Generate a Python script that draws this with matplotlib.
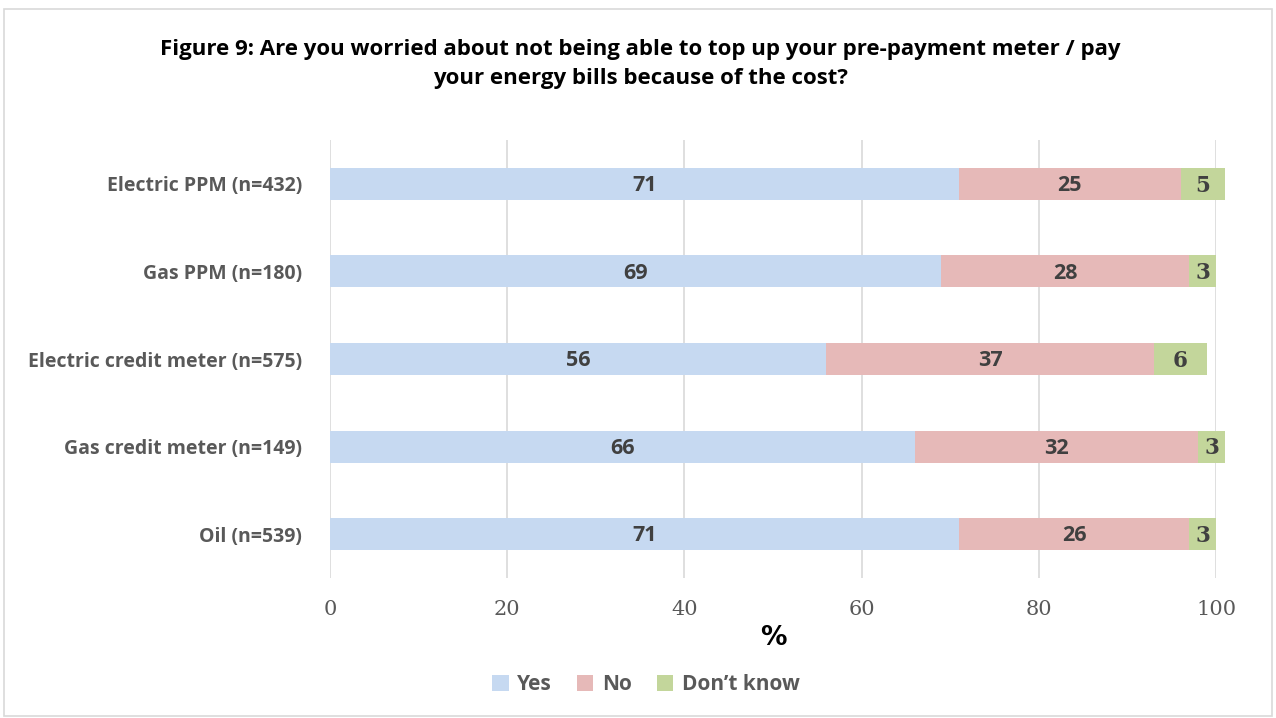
import matplotlib.pyplot as plt
from matplotlib.patches import Rectangle
import numpy as np

categories = ["Electric PPM (n=432)", "Gas PPM (n=180)", "Electric credit meter (n=575)",
              "Gas credit meter (n=149)", "Oil (n=539)"]
yes = [71, 69, 56, 66, 71]
no = [25, 28, 37, 32, 26]
dont_know = [5, 3, 6, 3, 3]
series_names = ["Yes", "No", "Don\u2019t know"]
colors = ["#C6D9F1", "#E6B9B8", "#C3D69B"]
x_ticks = [0, 20, 40, 60, 80, 100]

fig = plt.figure(figsize=(12.76, 7.18), dpi=100)
ax = fig.add_axes([0.2586, 0.195, 0.6944, 0.610])

# light frame around the whole chart
fig.patches.append(Rectangle((0.003, 0.003), 0.994, 0.985, transform=fig.transFigure,
                             fill=False, edgecolor="#D9D9D9", linewidth=1.2))

y = np.arange(len(categories))
left = np.zeros(len(categories))
for vals, name, col in zip([yes, no, dont_know], series_names, colors):
    bars = ax.barh(y, vals, left=left, height=0.365, color=col, label=name, zorder=3,
                   clip_on=False)
    fam = "DejaVu Serif" if name.startswith("Don") else "Open Sans"
    for b, v in zip(bars, vals):
        ax.text(b.get_x() + b.get_width() / 2, b.get_y() + b.get_height() / 2 + 0.02, str(v),
                ha="center", va="center", fontsize=15.5, fontweight="bold",
                color="#404040", family=fam, zorder=4)
    left += np.array(vals)

ax.set_ylim(len(categories) - 0.5, -0.5)
ax.set_xlim(0, 100)
ax.set_yticks(y)
ax.set_yticklabels(categories, fontsize=14, fontweight="bold", color="#595959", family="Open Sans")
ax.set_xticks(x_ticks)
ax.set_xticklabels([str(t) for t in x_ticks], fontsize=15, color="#595959", family="DejaVu Serif")
ax.tick_params(axis="both", length=0)
ax.tick_params(axis="x", pad=16)
ax.tick_params(axis="y", pad=20)
ax.grid(axis="x", color="#D9D9D9", linewidth=1.2, zorder=0)
for s in ax.spines.values():
    s.set_visible(False)

ax.set_xlabel("%", fontsize=19, fontweight="bold", color="black", labelpad=4)

fig.text(0.502, 0.911, "Figure 9: Are you worried about not being able to top up your pre-payment meter / pay\n"
         "your energy bills because of the cost?", ha="center", va="center", fontsize=16,
         fontweight="bold", family="Open Sans", linespacing=1.45)

fig.legend(loc="center", bbox_to_anchor=(0.506, 0.046), ncol=3, frameon=False,
           prop={"family": "Open Sans", "weight": "bold", "size": 15},
           labelcolor="#595959", handlelength=0.8, handleheight=0.8, handletextpad=0.4,
           columnspacing=1.2)

fig.savefig("out.png", dpi=100)
